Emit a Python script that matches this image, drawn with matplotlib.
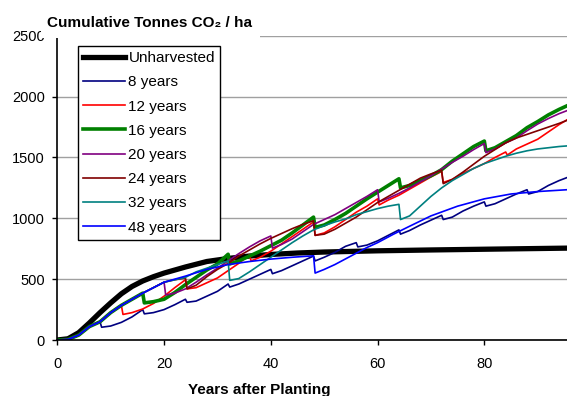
import matplotlib.pyplot as plt
from matplotlib.patches import Rectangle

plt.rcParams['font.family'] = ['Liberation Sans', 'DejaVu Sans']

# cumulative tonnes of CO2 per hectare, by rotation length
years_unharvested = [0, 2, 4, 6, 8, 10, 12, 14, 16, 18, 20, 24, 28, 32, 36, 40, 45, 50, 60, 70, 80, 95.5]
co2_unharvested = [0, 10, 60, 140, 225, 305, 380, 440, 485, 520, 550, 600, 645, 670, 690, 703, 715, 723, 733, 740, 746, 755]

years_8 = [0, 2, 4, 6, 8, 8.3, 10, 12, 14, 16, 16.3, 18, 20, 22, 24, 24.3, 26, 28, 30, 32, 32.3, 34, 36, 38, 40, 40.3,
           42, 44, 46, 48, 48.3, 50, 52, 54, 56, 56.3, 58, 60, 62, 64, 64.3, 66, 68, 70, 72, 72.3, 74, 76, 78, 80, 80.3,
           82, 84, 86, 88, 88.3, 90, 92, 94, 95.5]
co2_8 = [0, 5, 40, 110, 150, 105, 115, 145, 190, 250, 215, 225, 250, 290, 335, 310, 320, 360, 400, 460, 435, 460, 500,
         540, 580, 545, 570, 610, 650, 690, 650, 680, 720, 770, 800, 765, 780, 815, 860, 905, 870, 900, 945, 985, 1025,
         990, 1010, 1060, 1100, 1135, 1100, 1120, 1160, 1200, 1235, 1200, 1220, 1270, 1310, 1335]

years_12 = [0, 2, 4, 6, 8, 10, 12, 12.3, 14, 16, 18, 20, 22, 24, 24.3, 26, 28, 30, 32, 34, 36, 36.3, 38, 40, 42, 44, 46,
            48, 48.3, 50, 52, 54, 56, 58, 60, 60.3, 62, 64, 66, 68, 70, 72, 72.3, 74, 76, 78, 80, 82, 84, 84.3, 86, 88,
            90, 92, 94, 95.5]
co2_12 = [0, 5, 40, 110, 150, 225, 285, 210, 225, 255, 300, 360, 430, 495, 420, 430, 470, 510, 570, 630, 700, 650, 680,
          730, 790, 850, 910, 970, 860, 880, 930, 990, 1050, 1100, 1160, 1110, 1150, 1190, 1240, 1290, 1340, 1385, 1295,
          1320, 1370, 1410, 1450, 1500, 1545, 1520, 1570, 1610, 1650, 1710, 1770, 1810]

years_16 = [0, 2, 4, 6, 8, 10, 12, 14, 16, 16.3, 18, 20, 22, 24, 26, 28, 30, 32, 32.3, 34, 36, 38, 40, 42, 44, 46, 48,
            48.3, 50, 52, 54, 56, 58, 60, 62, 64, 64.3, 66, 68, 70, 72, 74, 76, 78, 80, 80.3, 82, 84, 86, 88, 90, 92, 94,
            95.5]
co2_16 = [0, 5, 40, 110, 150, 225, 285, 335, 385, 305, 315, 335, 390, 455, 515, 575, 625, 705, 625, 650, 690, 730, 775,
          820, 880, 945, 1010, 925, 945, 990, 1040, 1100, 1160, 1215, 1270, 1325, 1250, 1270, 1310, 1350, 1400, 1470,
          1530, 1590, 1635, 1555, 1580, 1630, 1680, 1745, 1795, 1850, 1895, 1925]

years_20 = [0, 2, 4, 6, 8, 10, 12, 14, 16, 18, 20, 20.3, 22, 24, 26, 28, 30, 32, 34, 36, 38, 40, 40.3, 42, 44, 46, 48,
            50, 52, 54, 56, 58, 60, 60.3, 62, 64, 66, 68, 70, 72, 74, 76, 78, 80, 80.3, 82, 84, 86, 88, 90, 92, 94, 95.5]
co2_20 = [0, 5, 40, 110, 150, 225, 285, 335, 385, 430, 475, 370, 385, 420, 475, 535, 590, 650, 710, 765, 815, 855, 755,
          785, 830, 890, 950, 990, 1030, 1080, 1130, 1180, 1235, 1135, 1165, 1205, 1250, 1300, 1350, 1405, 1460, 1510,
          1565, 1615, 1540, 1570, 1620, 1660, 1720, 1775, 1820, 1860, 1885]

years_24 = [0, 2, 4, 6, 8, 10, 12, 14, 16, 18, 20, 22, 24, 24.3, 26, 28, 30, 32, 34, 36, 38, 40, 42, 44, 46, 48, 48.3,
            50, 52, 54, 56, 58, 60, 62, 64, 66, 68, 70, 72, 72.3, 74, 76, 78, 80, 82, 84, 86, 88, 90, 92, 94, 95.5]
co2_24 = [0, 5, 40, 110, 150, 225, 285, 335, 385, 430, 475, 495, 510, 420, 450, 520, 580, 630, 690, 740, 790, 835, 875,
          915, 950, 980, 860, 870, 910, 960, 1010, 1070, 1130, 1180, 1230, 1280, 1330, 1365, 1395, 1285, 1320, 1380,
          1445, 1510, 1565, 1620, 1660, 1690, 1720, 1750, 1780, 1805]

years_32 = [0, 2, 4, 6, 8, 10, 12, 14, 16, 18, 20, 22, 24, 26, 28, 30, 32, 32.3, 34, 36, 38, 40, 42, 44, 46, 48, 50,
            52, 54, 56, 58, 60, 62, 64, 64.3, 66, 68, 70, 72, 74, 76, 78, 80, 82, 84, 86, 88, 90, 92, 94, 95.5]
co2_32 = [0, 5, 40, 110, 150, 225, 285, 335, 385, 430, 475, 495, 515, 560, 590, 620, 650, 490, 505, 560, 620, 680, 740,
          800, 855, 905, 940, 970, 995, 1030, 1055, 1080, 1100, 1115, 990, 1020, 1100, 1180, 1250, 1310, 1360, 1410,
          1450, 1480, 1510, 1535, 1555, 1570, 1580, 1590, 1595]

years_48 = [0, 2, 4, 6, 8, 10, 12, 14, 16, 18, 20, 22, 24, 28, 32, 36, 40, 44, 48, 48.3, 50, 52, 55, 58, 60, 63, 66,
            70, 75, 80, 85, 90, 95.5]
co2_48 = [0, 5, 40, 110, 150, 225, 285, 335, 385, 430, 475, 500, 525, 580, 620, 645, 665, 680, 692, 550, 580, 620, 690,
          760, 800, 870, 935, 1020, 1100, 1160, 1200, 1220, 1235]

series = [
    ('Unharvested', years_unharvested, co2_unharvested, '#000000', 3.8),
    ('8 years', years_8, co2_8, '#000080', 1.2),
    ('12 years', years_12, co2_12, '#FF0000', 1.2),
    ('16 years', years_16, co2_16, '#008000', 2.6),
    ('20 years', years_20, co2_20, '#800080', 1.2),
    ('24 years', years_24, co2_24, '#800000', 1.2),
    ('32 years', years_32, co2_32, '#008080', 1.2),
    ('48 years', years_48, co2_48, '#0000FF', 1.2),
]

fig = plt.figure(figsize=(5.67, 3.96), dpi=100)
ax = fig.add_axes([0.1011, 0.1414, 0.899, 0.7682])

for name, xs, ys, col, lw in series:
    ax.plot(xs, ys, color=col, lw=lw, label=name, solid_joinstyle='round')

ax.set_xlim(0, 95.5)
ax.set_ylim(0, 2500)
ax.set_xticks([0, 20, 40, 60, 80])
ax.set_yticks([0, 500, 1000, 1500, 2000, 2500])
ax.yaxis.grid(True, color='#a0a0a0', lw=1)
ax.set_axisbelow(True)
ax.spines['top'].set_visible(False)
ax.spines['right'].set_visible(False)
ax.spines['left'].set_linewidth(1.2)
ax.spines['bottom'].set_linewidth(1.2)
ax.tick_params(axis='both', direction='out', length=3.6, width=1, labelsize=10.5, colors='black')
ax.tick_params(axis='x', pad=8.5)
ax.tick_params(axis='y', pad=5.5)

leg = ax.legend(loc='upper left', bbox_to_anchor=(0.0405, 0.9675), borderaxespad=0, fontsize=11,
                handlelength=2.7, handletextpad=0.25, labelspacing=0.67, borderpad=0.35,
                fancybox=False, framealpha=1, edgecolor='black')
leg.get_frame().set_linewidth(1)

# white box behind the title hides the top gridline and part of the top tick label
fig.add_artist(Rectangle((41 / 567, 1 - 37.5 / 396), 219 / 567, 37.5 / 396, transform=fig.transFigure,
                         facecolor='white', edgecolor='none', zorder=1))
fig.text(47 / 567, 1 - 26.7 / 396, 'Cumulative Tonnes CO\u2082 / ha', fontsize=11, fontweight='bold',
         ha='left', va='baseline', zorder=3)
fig.text(259 / 567, 0.004, 'Years after Planting', fontsize=11, fontweight='bold', ha='center', va='baseline')

fig.savefig('out.png', dpi=100)
